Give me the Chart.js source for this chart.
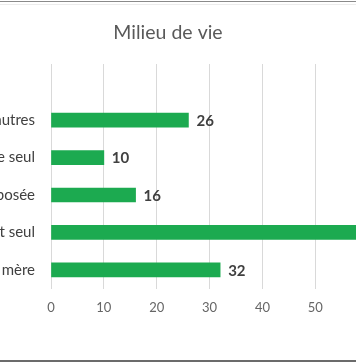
<!DOCTYPE html>
<html>
<head>
<meta charset="utf-8">
<script src="https://cdn.jsdelivr.net/npm/chart.js@4"></script>
<style>
  html, body { margin: 0; padding: 0; background: #fff; }
  #frame { position: relative; width: 356px; height: 364px; overflow: hidden; background: #fff; }
  #wrap { position: absolute; left: -140px; top: 0; width: 616px; height: 364px; }
  .ln { position: absolute; left: 0; width: 356px; }
</style>
</head>
<body>
<div id="frame">
  <div id="wrap"><canvas id="c" width="616" height="364"></canvas></div>
  <div class="ln" style="top:1px;height:1px;background:#8a8a8a"></div>
  <div class="ln" style="top:4px;height:1px;background:#ececec"></div>
  <div class="ln" style="top:360px;height:2px;background:#6b6b6b"></div>
</div>
<script>
const title = "Milieu de vie";
const categories = ["", "Avec d'autres", "Père seul", "Famille recomposée", "Parent seul", "Père et mère"];
const values = [null, 26, 10, 16, 60, 32];
const tickValues = [0, 10, 20, 30, 40, 50, 60, 70];

const FONT = "Lato, 'Open Sans', sans-serif";

const valueLabels = {
  id: 'valueLabels',
  afterDatasetsDraw(chart) {
    const ctx = chart.ctx;
    const meta = chart.getDatasetMeta(0);
    ctx.save();
    ctx.font = "bold 15px " + FONT;
    ctx.fillStyle = "#404040";
    ctx.textAlign = "left";
    ctx.textBaseline = "middle";
    meta.data.forEach((bar, i) => {
      const v = values[i];
      if (v === null || v === undefined) return;
      ctx.fillText(String(v), bar.x + 8, bar.y + 1);
    });
    ctx.restore();
  }
};

new Chart(document.getElementById('c'), {
  type: 'bar',
  data: {
    labels: categories,
    datasets: [{
      data: values,
      backgroundColor: "#1CAA50",
      borderWidth: 0,
      barThickness: 14
    }]
  },
  options: {
    indexAxis: 'y',
    responsive: false,
    animation: false,
    devicePixelRatio: 1,
    layout: { padding: { left: 55, right: 55, top: 0, bottom: 0 } },
    plugins: {
      legend: { display: false },
      tooltip: { enabled: false },
      title: {
        display: true,
        text: title,
        color: "#595959",
        font: { family: FONT, size: 19.5, weight: 'normal' },
        padding: { top: 21, bottom: 19.6 }
      }
    },
    scales: {
      x: {
        min: 0,
        max: 70,
        afterBuildTicks(scale) { scale.ticks = tickValues.map(v => ({ value: v })); },
        afterFit(scale) { scale.height = 75.4; },
        grid: { color: "#d9d9d9", lineWidth: 1, drawTicks: false },
        border: { display: false },
        ticks: { color: "#666666", font: { family: FONT, size: 13 }, padding: 11 }
      },
      y: {
        afterFit(scale) { scale.width = 136; },
        grid: { display: false, drawTicks: false },
        border: { display: false },
        ticks: { color: "#404040", font: { family: FONT, size: 15 }, padding: 16 }
      }
    }
  },
  plugins: [valueLabels]
});
</script>
</body>
</html>
